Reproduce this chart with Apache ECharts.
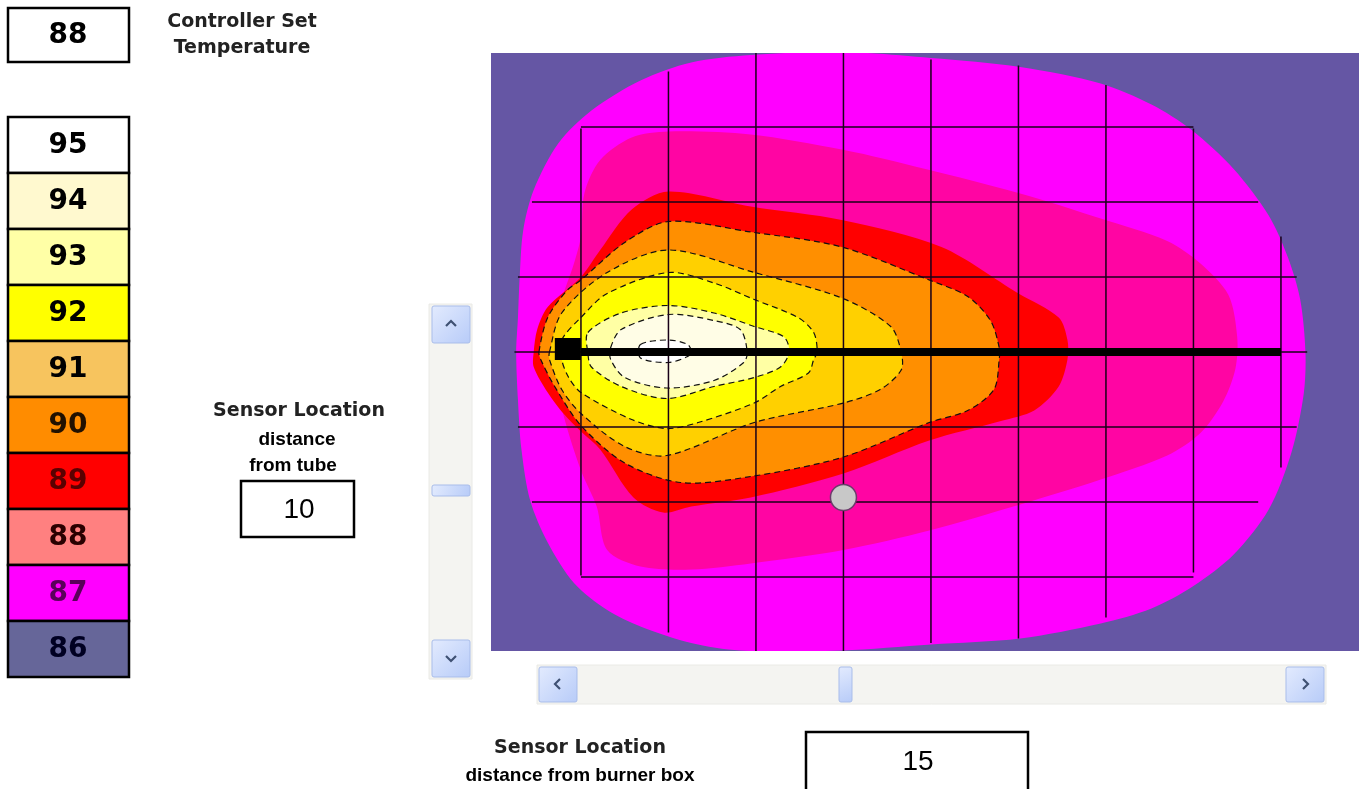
<!DOCTYPE html>
<html>
<head>
<meta charset="utf-8">
<title>Sensor location temperature map</title>
<script src="https://cdn.jsdelivr.net/npm/echarts@6/dist/echarts.min.js"></script>
<style>
  html, body { margin: 0; padding: 0; background: #fff; }
  #main { width: 1359px; height: 789px; }
</style>
</head>
<body>
<div id="main"></div>
<script>
// key: temperature levels, top to bottom
const levels = [95, 94, 93, 92, 91, 90, 89, 88, 87, 86];
const keyColors = ['#ffffff', '#fff9cf', '#ffffa6', '#ffff00', '#f7c45e', '#ff8c00', '#ff0000', '#ff8080', '#ff00ff', '#666699'];
const keyTextColors = ['#000', '#000', '#000', '#000', '#000', '#221100', '#5a0000', '#2a0000', '#5a005a', '#000022'];

const setTemp = 88;
const sensorFromTube = 10;
const sensorFromBurner = 15;

// contour outlines: x = distance from burner box, y = distance from tube
const c87 = [[-3.7,0],[-3.6,2.3],[-3.5,5],[-3.3,8.1],[-2.7,10.8],[-1.3,13.9],[0.6,16.1],[3.4,18.1],[6.3,19.3],[9.7,19.8],[14.9,20],[20,19.6],[25.1,19],[29.7,17.9],[32.6,16.5],[34.9,14.8],[37.3,12.2],[39.3,9.1],[40.4,6.3],[41.1,3.5],[41.4,0],[41.3,-2.8],[40.6,-6.7],[39.3,-10.5],[37.3,-13.5],[35,-15.6],[32.6,-17.1],[29.7,-18.1],[25.1,-19.1],[20,-19.5],[14.9,-19.9],[9.1,-19.9],[6.3,-19.4],[3.4,-18.3],[1.5,-17.2],[-0.4,-15.4],[-1.9,-12.7],[-2.9,-9.9],[-3.4,-6.5],[-3.6,-3.2]];
const c88 = [[1.1,12.8],[2.9,14.3],[5,14.7],[9.7,14.5],[14.9,13.5],[18.3,12.6],[25,10.6],[29.7,8.9],[33.5,7.4],[35.4,5.9],[37,3.8],[37.5,1],[37.4,-1.1],[36.7,-3.3],[35.4,-5.4],[33.5,-6.9],[29.7,-8.5],[25,-10.2],[19.9,-11.9],[15,-13.2],[9.7,-14.1],[6.3,-14.5],[3.4,-14.3],[1.5,-13.2],[0.9,-10.3],[0,-7.9],[-1,-4.2],[-1.8,0],[-1.1,3.5],[-0.4,5.9],[0,7.7],[0.2,10.6]];
const c89 = [[-2.7,0],[-2.5,1.5],[-1.9,3],[0,5],[1.1,6.8],[2.9,9.5],[5,10.7],[9.7,9.7],[14.9,8.8],[20.6,7],[25,3.9],[27.3,2.3],[27.8,0.8],[27.8,-0.5],[27.3,-2.3],[25.9,-3.9],[24,-4.6],[19.9,-5.9],[15,-8.1],[9.7,-9.7],[6.3,-10.3],[4.7,-10.7],[3,-9.7],[1.1,-6.5],[0,-5.3],[-1,-4.1],[-1.9,-2.7],[-2.7,-1]];
const c90 = [[-2.4,0],[-1.9,2.3],[-0.8,4.1],[0,4.8],[2.5,7.3],[5,8.7],[9.7,8],[14.9,7],[19.9,4.8],[22.1,3.7],[23.4,2.1],[23.9,0.3],[23.9,-0.5],[23.6,-2.5],[22.1,-3.9],[19.9,-4.7],[15,-7],[9.7,-8.3],[5.7,-8.7],[2.5,-7.4],[0,-4.9],[-1.5,-2.3],[-2.3,-0.5]];
const c91 = [[-1.8,0],[-1.1,2.6],[1.5,5.3],[5,6.8],[9.9,5.3],[14.9,3.6],[17.7,1.7],[18.3,0],[18.3,-1.2],[17.1,-2.5],[15,-3.4],[9.9,-4.7],[4.9,-6.9],[2.5,-6.3],[0,-4.1],[-1.1,-2.5],[-1.8,-0.5]];
const c92 = [[-1.1,0.8],[0,2.3],[1.5,3.9],[5,5.3],[7.6,4.6],[9.9,3.5],[12.4,2.3],[13.3,1.3],[13.5,0],[13.3,-0.5],[13,-1.4],[11.4,-2.3],[9.9,-3.4],[6.7,-4.7],[4.9,-5.1],[2.9,-4.5],[0,-2.7],[-0.7,-1.7],[-1.1,-0.5]];
const c93 = [[0.4,1.3],[2.3,2.6],[5,3.1],[7.6,2.6],[9.9,1.7],[11.6,1],[11.9,0],[11.4,-1],[9.9,-1.7],[7.6,-2.3],[4.9,-3.1],[2.3,-2.3],[0.6,-1],[0.4,-0.1]];
const c94 = [[1.7,0.3],[2.3,1.5],[5,2.5],[7.6,2.1],[9.1,1.5],[9.5,0],[9.3,-0.7],[7.6,-1.9],[4.9,-2.4],[2.5,-1.7],[1.7,-0.5]];
const c95 = [[3.4,0.5],[5,0.8],[6.1,0.5],[6.3,0],[6.1,-0.3],[5,-0.7],[3.4,-0.4]];

// mesh lines drawn over the field
const meshX = [0, 5, 10, 15, 20, 25, 30, 35, 40];
const meshXTop = [14.9, 18.7, 20, 20, 19.5, 19.1, 17.8, 14.9, 7.7];
const meshXBottom = [-14.9, -18.7, -20, -20, -19.4, -19.1, -17.7, -14.7, -7.7];
const meshY = [15, 10, 5, 0, -5, -10, -15];
const meshYLeft = [0, -2.8, -3.6, -3.8, -3.6, -2.8, 0];
const meshYRight = [35, 38.7, 40.9, 41.5, 40.9, 38.7, 35];

const tube = [[0, 0], [40, 0]];
const burnerBox = [[-0.75, 0.2]];
const sensorPoint = [[15, -9.7]];

// plot colours by level
const fieldColors = {
  86: '#6556a4', 87: '#ff00ff', 88: '#ff05a3', 89: '#ff0000', 90: '#ff8f00',
  91: '#ffd000', 92: '#ffff00', 93: '#ffffa4', 94: '#fffde6', 95: '#ffffff'
};

const contourList = [
  { level: 87, pts: c87, dashed: false },
  { level: 88, pts: c88, dashed: false },
  { level: 89, pts: c89, dashed: false },
  { level: 90, pts: c90, dashed: true },
  { level: 91, pts: c91, dashed: true },
  { level: 92, pts: c92, dashed: true },
  { level: 93, pts: c93, dashed: true },
  { level: 94, pts: c94, dashed: true },
  { level: 95, pts: c95, dashed: true }
];

const meshSegments = [];
meshX.forEach((x, i) => meshSegments.push([x, meshXBottom[i], x, meshXTop[i]]));
meshY.forEach((y, i) => meshSegments.push([meshYLeft[i], y, meshYRight[i], y]));

const chart = echarts.init(document.getElementById('main'), null, { renderer: 'canvas' });

const boldWide = 'bold 19px "DejaVu Sans", Verdana, sans-serif';
const boldNarrow = 'bold 19px "Liberation Sans", Arial, sans-serif';

// static page furniture: key, labels, input boxes, scroll bars
const graphics = [];

// controller set temperature box
graphics.push({ type: 'rect', shape: { x: 8, y: 8, width: 121, height: 54 }, style: { fill: '#fff', stroke: '#000', lineWidth: 2.5 } });
graphics.push({ type: 'text', x: 68, y: 36, style: { text: String(setTemp), font: 'bold 28px "DejaVu Sans", sans-serif', fill: '#000', align: 'center', verticalAlign: 'middle' } });
graphics.push({ type: 'text', x: 242, y: 22, style: { text: 'Controller Set', font: boldWide, fill: '#222', align: 'center', verticalAlign: 'middle' } });
graphics.push({ type: 'text', x: 242, y: 48, style: { text: 'Temperature', font: boldWide, fill: '#222', align: 'center', verticalAlign: 'middle' } });

// temperature key
levels.forEach((lv, i) => {
  const top = 117 + i * 56;
  graphics.push({ type: 'rect', shape: { x: 8, y: top, width: 121, height: 56 }, style: { fill: keyColors[i], stroke: '#000', lineWidth: 2.5 } });
  graphics.push({ type: 'text', x: 68, y: top + 29, style: { text: String(lv), font: 'bold 28px "DejaVu Sans", sans-serif', fill: keyTextColors[i], align: 'center', verticalAlign: 'middle' } });
});

// sensor distance from tube
graphics.push({ type: 'text', x: 299, y: 411, style: { text: 'Sensor Location', font: boldWide, fill: '#222', align: 'center', verticalAlign: 'middle' } });
graphics.push({ type: 'text', x: 297, y: 440, style: { text: 'distance', font: boldNarrow, fill: '#000', align: 'center', verticalAlign: 'middle' } });
graphics.push({ type: 'text', x: 293, y: 466, style: { text: 'from tube', font: boldNarrow, fill: '#000', align: 'center', verticalAlign: 'middle' } });
graphics.push({ type: 'rect', shape: { x: 241, y: 481, width: 113, height: 56 }, style: { fill: '#fff', stroke: '#000', lineWidth: 2.5 } });
graphics.push({ type: 'text', x: 299, y: 510, style: { text: String(sensorFromTube), font: '28px "Liberation Sans", Arial, sans-serif', fill: '#000', align: 'center', verticalAlign: 'middle' } });

// sensor distance from burner box
graphics.push({ type: 'text', x: 580, y: 748, style: { text: 'Sensor Location', font: boldWide, fill: '#222', align: 'center', verticalAlign: 'middle' } });
graphics.push({ type: 'text', x: 580, y: 776, style: { text: 'distance from burner box', font: boldNarrow, fill: '#000', align: 'center', verticalAlign: 'middle' } });
graphics.push({ type: 'rect', shape: { x: 806, y: 732, width: 222, height: 64 }, style: { fill: '#fff', stroke: '#000', lineWidth: 2.5 } });
graphics.push({ type: 'text', x: 918, y: 762, style: { text: String(sensorFromBurner), font: '28px "Liberation Sans", Arial, sans-serif', fill: '#000', align: 'center', verticalAlign: 'middle' } });

// scroll bars
const btnFill = new echarts.graphic.LinearGradient(0, 0, 1, 1, [
  { offset: 0, color: '#e3ebfe' }, { offset: 1, color: '#b7cbf8' }
]);
function button(x, y, w, h) {
  return { type: 'rect', shape: { x: x, y: y, width: w, height: h, r: 2 }, style: { fill: btnFill, stroke: '#a9bdea', lineWidth: 1 } };
}
function chevron(points) {
  return { type: 'polyline', shape: { points: points }, style: { stroke: '#3f5173', lineWidth: 2.2, fill: null } };
}
// vertical
graphics.push({ type: 'rect', shape: { x: 429, y: 304, width: 43, height: 375 }, style: { fill: '#f4f4f1', stroke: '#eaeae6', lineWidth: 1 } });
graphics.push(button(432, 306, 38, 37));
graphics.push(chevron([[446, 326], [451, 321], [456, 326]]));
graphics.push(button(432, 485, 38, 11));
graphics.push(button(432, 640, 38, 37));
graphics.push(chevron([[446, 656], [451, 661], [456, 656]]));
// horizontal
graphics.push({ type: 'rect', shape: { x: 537, y: 665, width: 789, height: 39 }, style: { fill: '#f4f4f1', stroke: '#eaeae6', lineWidth: 1 } });
graphics.push(button(539, 667, 38, 35));
graphics.push(chevron([[560, 679], [555, 684], [560, 689]]));
graphics.push(button(839, 667, 13, 35));
graphics.push(button(1286, 667, 38, 35));
graphics.push(chevron([[1303, 679], [1308, 684], [1303, 689]]));

const option = {
  animation: false,
  backgroundColor: '#ffffff',
  grid: {
    left: 491, top: 53, width: 868, height: 598,
    show: true, backgroundColor: fieldColors[86], borderWidth: 0
  },
  xAxis: { type: 'value', min: -5.14, max: 44.46, show: false, splitLine: { show: false } },
  yAxis: { type: 'value', min: -19.93, max: 19.93, show: false, splitLine: { show: false } },
  graphic: { elements: graphics },
  series: [
    {
      type: 'custom',
      name: 'field',
      clip: true,
      z: 1,
      data: contourList.map((c, i) => [i, 0]),
      renderItem: function (params, api) {
        const c = contourList[params.dataIndex];
        const pts = c.pts.map(p => api.coord(p));
        return {
          type: 'polygon',
          shape: { points: pts, smooth: 0.3 },
          style: {
            fill: fieldColors[c.level],
            stroke: c.dashed ? '#111' : null,
            lineWidth: 1.2,
            lineDash: c.dashed ? [6, 4] : null
          }
        };
      }
    },
    {
      type: 'custom',
      name: 'mesh',
      clip: true,
      z: 2,
      encode: { x: [0, 2], y: [1, 3] },
      data: meshSegments,
      renderItem: function (params, api) {
        const a = api.coord([api.value(0), api.value(1)]);
        const b = api.coord([api.value(2), api.value(3)]);
        return {
          type: 'line',
          shape: { x1: a[0], y1: a[1], x2: b[0], y2: b[1] },
          style: { stroke: '#180018', lineWidth: 1.5 }
        };
      }
    },
    {
      type: 'line',
      name: 'tube',
      z: 3,
      data: tube,
      symbol: 'none',
      lineStyle: { color: '#000', width: 8, cap: 'butt' }
    },
    {
      type: 'scatter',
      name: 'burner box',
      z: 4,
      data: burnerBox,
      symbol: 'rect',
      symbolSize: [26, 22],
      itemStyle: { color: '#000', opacity: 1 }
    },
    {
      type: 'scatter',
      name: 'sensor',
      z: 5,
      data: sensorPoint,
      symbolSize: 26,
      itemStyle: { color: '#c8c8c8', borderColor: '#6b3d6b', borderWidth: 1.5, opacity: 1 }
    }
  ]
};

chart.setOption(option);
</script>
</body>
</html>
